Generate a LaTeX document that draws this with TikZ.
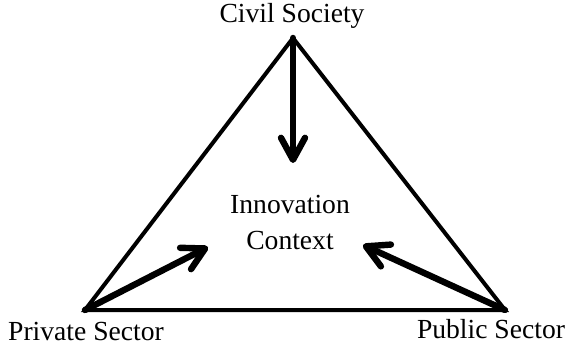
\documentclass[tikz,border=0pt]{standalone}
\usepackage{fontspec}
\setmainfont{Liberation Serif}
\usetikzlibrary{arrows.meta}
\begin{document}
\begin{tikzpicture}[x=0.5pt, y=-0.5pt, font=\fontsize{13.8}{16}\selectfont, line join=miter,
  side/.style={line width=2pt},
  push/.style={line width=3.2pt, line cap=round, -{Straight Barb[length=11pt, width=12pt, line width=3.2pt, round]}}]
\useasboundingbox (0,0) rectangle (572,347);
% 3 dinh cua tam giac
\coordinate (top) at (293,38);
\coordinate (left) at (85,310);
\coordinate (right) at (505,310);
\draw[side] (top)--(left)--(right)--cycle;
% nhan o cac dinh
\node (civil) at (292,16) {Civil Society};
\node (private) at (86,331) {Private Sector};
\node (public) at (491,329) {Public Sector};
\node[align=center] (ctx) at (290,222) {Innovation\\[2pt]Context};
% mui ten vao giua
\coordinate (civilin) at (293,163);
\coordinate (privin) at (208,247);
\coordinate (pubin) at (363,245);
\draw[push] (top)--(civilin);
\draw[push] (left)--(privin);
\draw[push] (right)--(pubin);
\end{tikzpicture}
\end{document}
